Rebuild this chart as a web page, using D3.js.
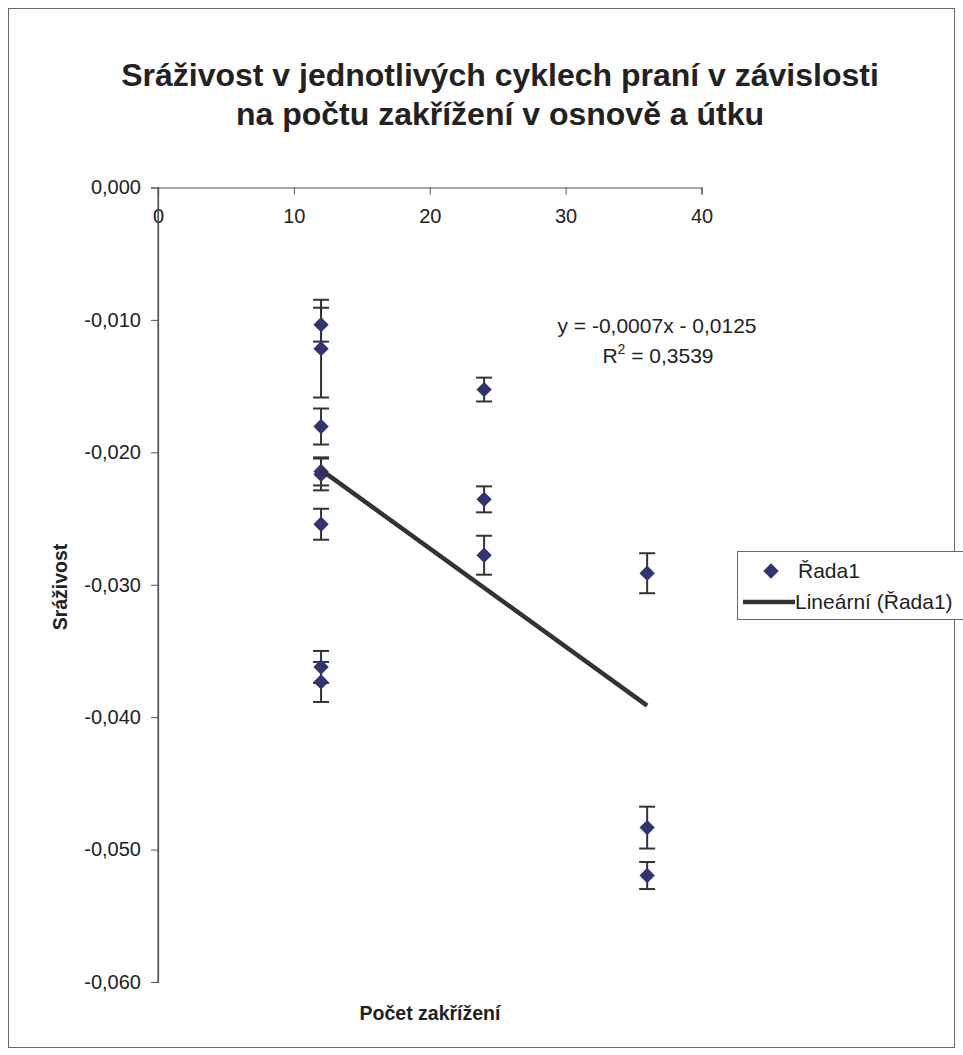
<!DOCTYPE html>
<html><head><meta charset="utf-8">
<script src="https://cdn.jsdelivr.net/npm/d3@7"></script>
<style>body{margin:0;background:#fff}svg{display:block}text{font-family:"Liberation Sans",Arial,sans-serif;fill:#222}</style>
</head><body>
<svg id="c" width="963" height="1055"></svg>
<script>
const titleLines = ["Sráživost v jednotlivých cyklech praní v závislosti", "na počtu zakřížení v osnově a útku"];
const crossings = [12,12,12,12,12,12,12,12,24,24,24,36,36,36];
const shrinkage = [-0.01036,-0.01217,-0.01805,-0.02144,-0.02167,-0.02543,-0.03621,-0.03734,-0.01526,-0.02355,-0.02777,-0.02913,-0.04834,-0.05196];
const errors = [0.00128,0.00369,0.00136,0.00106,0.00120,0.00117,0.00121,0.00151,0.0009,0.00098,0.00147,0.00151,0.00158,0.00102];
const xTicks = [0,10,20,30,40];
const yTicks = [0,-0.01,-0.02,-0.03,-0.04,-0.05,-0.06];
const equationText = "y = -0,0007x - 0,0125";
const r2Value = "0,3539";
const seriesName = "Řada1";
const trendName = "Lineární (Řada1)";

const svg = d3.select("#c");
svg.append("rect").attr("x",8.5).attr("y",8.5).attr("width",946).attr("height",1039).attr("fill","none").attr("stroke","#666").attr("stroke-width",1);

const x = d3.scaleLinear().domain([0,40]).range([158,701.5]);
const y = d3.scaleLinear().domain([0,-0.06]).range([187.5,982]);
const fmt = v => (v<0?"-":"") + Math.abs(v).toFixed(3).replace(".",",");
const FF = "Liberation Sans, Arial, sans-serif";

// title
svg.append("text").attr("x",500).attr("y",86).attr("text-anchor","middle").style("font-size","32px").style("font-weight","bold").text(titleLines[0]);
svg.append("text").attr("x",500).attr("y",125).attr("text-anchor","middle").style("font-size","32px").style("font-weight","bold").text(titleLines[1]);

// y axis
const ya = svg.append("g").attr("transform","translate(158,0)")
  .call(d3.axisLeft(y).tickValues(yTicks).tickFormat(fmt).tickSize(7).tickPadding(10));
ya.select(".domain").attr("stroke","#555").attr("stroke-width",1.2);
ya.selectAll(".tick line").attr("stroke","#555");
ya.selectAll(".tick text").style("font-size","20px").style("font-family",FF).attr("fill","#222");

// x axis at y=0
const xa = svg.append("g").attr("transform",`translate(0,${y(0)})`)
  .call(d3.axisBottom(x).tickValues(xTicks).tickFormat(d=>d).tickSize(7).tickPadding(14));
xa.select(".domain").attr("stroke","#555").attr("stroke-width",1.2);
xa.selectAll(".tick line").attr("stroke","#555");
xa.selectAll(".tick text").style("font-size","20px").style("font-family",FF).attr("fill","#222");
svg.append("line").attr("x1",158).attr("x2",158).attr("y1",y(0)).attr("y2",y(-0.06)).attr("stroke","#555").attr("stroke-width",1.2);

// axis titles
svg.append("text").attr("transform","translate(67,587) rotate(-90)").attr("text-anchor","middle").style("font-size","19.5px").style("font-weight","bold").text("Sráživost");
svg.append("text").attr("x",430).attr("y",1020).attr("text-anchor","middle").style("font-size","19.5px").style("font-weight","bold").text("Počet zakřížení");

const data = crossings.map((c,i)=>({x:c,y:shrinkage[i],e:errors[i]}));

// trendline (least squares)
const mx = d3.mean(data,d=>d.x), my = d3.mean(data,d=>d.y);
const slope = d3.sum(data,d=>(d.x-mx)*(d.y-my))/d3.sum(data,d=>(d.x-mx)**2);
const icpt = my - slope*mx;
const [x0,x1] = d3.extent(data,d=>d.x);

// error bars
const eb = svg.append("g").attr("stroke","#333").attr("stroke-width",2);
data.forEach(d=>{
  const cx = x(d.x), t = y(d.y+d.e), b = y(d.y-d.e);
  eb.append("line").attr("x1",cx).attr("x2",cx).attr("y1",t).attr("y2",b);
  eb.append("line").attr("x1",cx-8).attr("x2",cx+8).attr("y1",t).attr("y2",t);
  eb.append("line").attr("x1",cx-8).attr("x2",cx+8).attr("y1",b).attr("y2",b);
});

// points
const diamond = d3.symbol().type(d3.symbolDiamond2).size(150);
svg.append("g").selectAll("path").data(data).join("path")
  .attr("transform",d=>`translate(${x(d.x)},${y(d.y)})`)
  .attr("d",diamond).attr("fill","#333370");

svg.append("line").attr("x1",x(x0)).attr("y1",y(icpt+slope*x0)).attr("x2",x(x1)).attr("y2",y(icpt+slope*x1))
  .attr("stroke","#333").attr("stroke-width",4.5);

// equation
svg.append("text").attr("x",657).attr("y",333).attr("text-anchor","middle").style("font-size","21px").text(equationText);
const r2 = svg.append("text").attr("x",658).attr("y",363).attr("text-anchor","middle").style("font-size","21px");
r2.append("tspan").text("R");
r2.append("tspan").attr("dy",-9).style("font-size","14px").text("2");
r2.append("tspan").attr("dy",9).text(" = " + r2Value);

// legend
svg.append("rect").attr("x",737.5).attr("y",551.5).attr("width",230).attr("height",68).attr("fill","#fff").attr("stroke","#666");
svg.append("path").attr("transform","translate(771,571)").attr("d",diamond).attr("fill","#333370");
svg.append("text").attr("x",798).attr("y",578).style("font-size","21px").text(seriesName);
svg.append("line").attr("x1",743).attr("x2",795).attr("y1",602).attr("y2",602).attr("stroke","#333").attr("stroke-width",4.5);
svg.append("text").attr("x",795).attr("y",609).style("font-size","21px").text(trendName);
</script>
</body></html>
